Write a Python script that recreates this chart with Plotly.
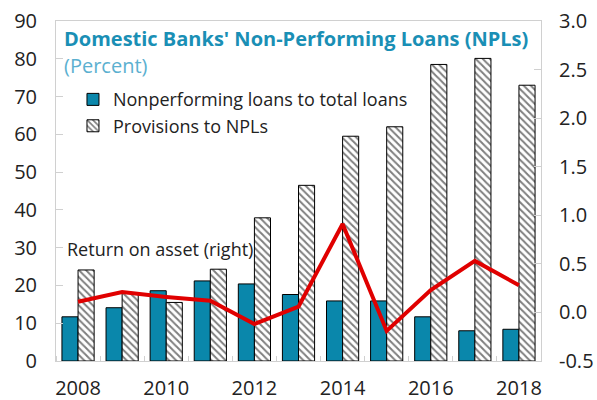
import plotly.graph_objects as go

years = list(range(2008, 2019))
npl_ratio = [11.7, 14.1, 18.6, 21.2, 20.4, 17.6, 15.9, 15.9, 11.7, 8.0, 8.4]
provisions = [24.1, 18.1, 15.5, 24.3, 37.9, 46.5, 59.5, 62.0, 78.5, 80.1, 73.0]
roa = [0.11, 0.21, 0.16, 0.12, -0.12, 0.06, 0.91, -0.19, 0.23, 0.53, 0.28]

# right-axis ticks (plain hyphen for the negative label)
roa_ticks = [-0.5, 0.0, 0.5, 1.0, 1.5, 2.0, 2.5, 3.0]
roa_tick_labels = ["-0.5", "0.0", "0.5", "1.0", "1.5", "2.0", "2.5", "3.0"]

FONT = "Open Sans"
TEAL = "#0A87AB"
FRAME = "#d0d0d0"

fig = go.Figure()
fig.add_trace(go.Bar(
    x=years, y=npl_ratio, name="Nonperforming loans to total loans",
    marker=dict(color=TEAL, line=dict(color="black", width=1)),
    offsetgroup="a",
))
fig.add_trace(go.Bar(
    x=years, y=provisions, name="Provisions to NPLs",
    marker=dict(color="white", line=dict(color="black", width=1),
                pattern=dict(shape="\\", fgcolor="black", bgcolor="white",
                             size=5, solidity=0.4)),
    offsetgroup="b",
))
fig.add_trace(go.Scatter(
    x=years, y=roa, yaxis="y2", mode="lines", showlegend=False,
    line=dict(color="#E00000", width=4),
))

fig.update_layout(
    width=597, height=400,
    margin=dict(l=56, r=56, t=21, b=39, autoexpand=False),
    paper_bgcolor="white", plot_bgcolor="white",
    barmode="group", bargap=0.27, bargroupgap=0,
    font=dict(family=FONT, size=20, color="#222222"),
    showlegend=True,
    legend=dict(x=0.035, y=0.823, xanchor="left", yanchor="top",
                bgcolor="rgba(0,0,0,0)", font=dict(size=18, color="#222222"),
                tracegroupgap=0, itemwidth=30),
    xaxis=dict(range=[2007.5, 2018.5], tickvals=[2008, 2010, 2012, 2014, 2016, 2018],
               ticks="", showline=True, linecolor=FRAME, mirror=True, automargin=False,
               showgrid=False, zeroline=False, ticklabelstandoff=9,
               minor=dict(tick0=2007.5, dtick=1, ticks="inside", ticklen=5,
                          tickcolor=FRAME, showgrid=False)),
    yaxis=dict(range=[0, 90], dtick=10, ticks="inside", ticklen=7, tickcolor=FRAME,
               showline=True, linecolor=FRAME, showgrid=False, zeroline=False,
               automargin=False, ticklabelstandoff=14),
    yaxis2=dict(range=[-0.5, 3.0], tickmode="array", tickvals=roa_ticks,
                ticktext=roa_tick_labels, overlaying="y", side="right",
                ticks="inside", ticklen=7, tickcolor=FRAME, showline=True,
                linecolor=FRAME, showgrid=False, zeroline=False,
                automargin=False, ticklabelstandoff=13),
    annotations=[
        dict(text="<b>Domestic Banks' Non-Performing Loans (NPLs)</b>", xref="paper", yref="paper",
             x=0.012, y=0.95, xanchor="left", yanchor="middle", showarrow=False,
             font=dict(size=20, color="#1A8FB5")),
        dict(text="(Percent)", xref="paper", yref="paper",
             x=0.012, y=0.868, xanchor="left", yanchor="middle", showarrow=False,
             font=dict(size=20, color="#5BB0D0")),
        dict(text="Return on asset (right)", xref="paper", yref="paper",
             x=0.018, y=0.329, xanchor="left", yanchor="middle", showarrow=False,
             font=dict(size=18, color="#222222")),
    ],
)

fig.write_html("out.html")
